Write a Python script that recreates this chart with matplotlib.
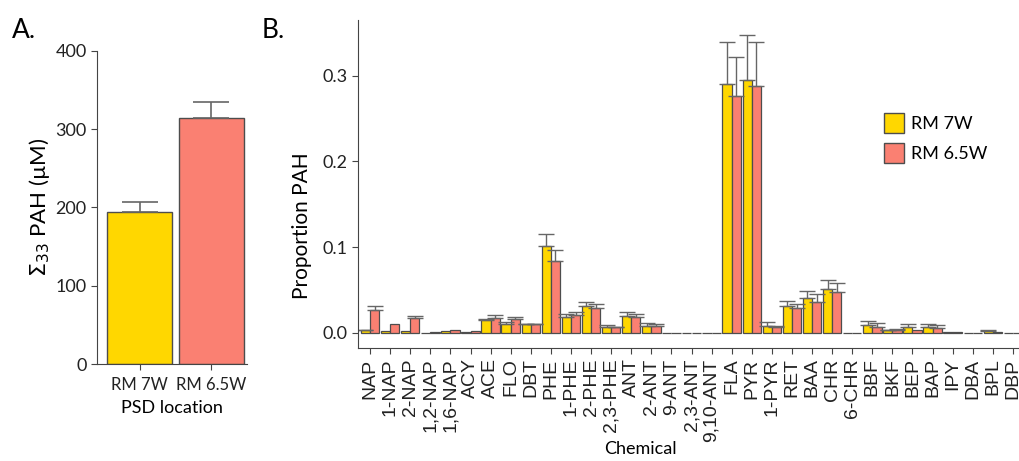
import numpy as np
import matplotlib
matplotlib.use('Agg')
import matplotlib.pyplot as plt
from matplotlib.patches import Patch

plt.rcParams['font.family'] = ['Lato', 'DejaVu Sans']
plt.rcParams['axes.edgecolor'] = '#444444'
plt.rcParams['xtick.color'] = '#444444'
plt.rcParams['ytick.color'] = '#444444'
plt.rcParams['xtick.labelcolor'] = '#222222'
plt.rcParams['ytick.labelcolor'] = '#222222'

# panel A data
locations = ['RM 7W', 'RM 6.5W']
total_pah = [194, 315]
total_err = [13, 20]

# panel B data
chemicals = ['NAP', '1-NAP', '2-NAP', '1,2-NAP', '1,6-NAP', 'ACY', 'ACE', 'FLO', 'DBT',
             'PHE', '1-PHE', '2-PHE', '2,3-PHE', 'ANT', '2-ANT', '9-ANT', '2,3-ANT',
             '9,10-ANT', 'FLA', 'PYR', '1-PYR', 'RET', 'BAA', 'CHR', '6-CHR', 'BBF',
             'BKF', 'BEP', 'BAP', 'IPY', 'DBA', 'BPL', 'DBP']
rm7w = [0.003, 0.002, 0.002, 0.0005, 0.002, 0.001, 0.015, 0.011, 0.010, 0.1015, 0.019,
        0.032, 0.0075, 0.020, 0.008, 0, 0, 0, 0.2905, 0.295, 0.0085, 0.032, 0.0405,
        0.0515, 0, 0.009, 0.003, 0.0065, 0.0065, 0.0015, 0, 0.002, 0]
rm7w_err = [0.001, 0.0005, 0.0005, 0, 0.0005, 0, 0.001, 0.002, 0.001, 0.014, 0.003,
            0.004, 0.0015, 0.005, 0.0035, 0, 0, 0, 0.0485, 0.052, 0.004, 0.0055, 0.0085,
            0.0105, 0, 0.0055, 0.001, 0.004, 0.004, 0.0005, 0, 0.002, 0]
rm65w = [0.027, 0.0105, 0.017, 0.001, 0.004, 0.002, 0.018, 0.016, 0.010, 0.0845, 0.0205,
         0.029, 0.0065, 0.019, 0.0085, 0, 0, 0, 0.2765, 0.2875, 0.0066, 0.029, 0.036,
         0.0475, 0, 0.0075, 0.003, 0.0035, 0.0055, 0.001, 0, 0.001, 0]
rm65w_err = [0.004, 0.0005, 0.003, 0, 0.0005, 0, 0.003, 0.003, 0.001, 0.0125, 0.0035,
             0.005, 0.001, 0.0035, 0.0015, 0, 0, 0, 0.0455, 0.0515, 0.0015, 0.005, 0.0095,
             0.0105, 0, 0.0045, 0.002, 0.0005, 0.0035, 0, 0, 0, 0]

yellow = '#FFD700'
salmon = '#FA8072'
edge = '#4d4d4d'
errc = '#666666'

fig = plt.figure(figsize=(10.19, 4.61), dpi=100)

# ---- panel A ----
axA = fig.add_axes([97/1019, 97/461, 150/1019, 313/461])
xa = np.arange(len(locations))
axA.bar(xa, total_pah, width=0.91, color=[yellow, salmon], edgecolor=edge, linewidth=1)
axA.errorbar(xa, total_pah, yerr=[np.zeros(2), total_err], fmt='none', ecolor=errc,
             elinewidth=1.2, capsize=13, capthick=1.2, zorder=1)
axA.set_xlim(-0.6, 1.5)
axA.set_ylim(0, 400)
axA.set_yticks([0, 100, 200, 300, 400])
axA.set_xticks(xa)
axA.set_xticklabels(locations, fontsize=12)
axA.tick_params(axis='y', labelsize=13, length=4)
axA.tick_params(axis='x', length=4, pad=5)
axA.spines[['top', 'right']].set_visible(False)
axA.set_ylabel(r'$\Sigma_{33}$ PAH (' + '\u00b5' + 'M)', fontsize=16)
axA.yaxis.set_label_coords((52 - 97) / 150, 0.5)
axA.set_xlabel('PSD location', fontsize=13)
axA.xaxis.set_label_coords(0.5, (364 - 400) / 313)

# ---- panel B ----
axB = fig.add_axes([358/1019, 113/461, 667/1019, 328/461])
xb = np.arange(len(chemicals))
w = 0.46
axB.bar(xb - w/2, rm7w, width=w, color=yellow, edgecolor=edge, linewidth=0.9, label='RM 7W')
axB.bar(xb + w/2, rm65w, width=w, color=salmon, edgecolor=edge, linewidth=0.9, label='RM 6.5W')

# only draw error bars where there is a visible error
for vals, errs, off in [(rm7w, rm7w_err, -w/2), (rm65w, rm65w_err, w/2)]:
    v = np.array(vals)
    e = np.array(errs)
    m = e > 0.0009
    axB.errorbar(xb[m] + off, v[m], yerr=[np.zeros(m.sum()), e[m]], fmt='none',
                 ecolor=errc, elinewidth=1, capsize=6, capthick=1, zorder=1)

axB.set_xlim(-0.6, 32.6)
axB.set_ylim(-0.0175, 0.365)
axB.set_yticks([0.0, 0.1, 0.2, 0.3])
axB.set_yticklabels(['0.0', '0.1', '0.2', '0.3'])
axB.set_xticks(xb)
axB.set_xticklabels(chemicals, rotation=90, fontsize=14, family='Liberation Sans')
axB.tick_params(axis='y', labelsize=13, length=4)
axB.tick_params(axis='x', length=4)
axB.spines[['top', 'right']].set_visible(False)
axB.set_ylabel('Proportion PAH', fontsize=15)
axB.yaxis.set_label_coords((312 - 358) / 667, (333 - 211) / 328)
axB.set_xlabel('Chemical', fontsize=13)
axB.xaxis.set_label_coords((640 - 358) / 667, (348 - 441) / 328)

handles = [Patch(facecolor=yellow, edgecolor=edge, label='RM 7W'),
           Patch(facecolor=salmon, edgecolor=edge, label='RM 6.5W')]
fig.legend(handles=handles, loc='upper left', bbox_to_anchor=(868/1019, 1 - 97/461),
           frameon=False, fontsize=13, handlelength=1.1, handleheight=1.3,
           handletextpad=0.4, labelspacing=0.55)

fig.text(12/1019, 1 - 30/461, 'A.', fontsize=19, va='center', ha='left')
fig.text(262/1019, 1 - 30/461, 'B.', fontsize=19, va='center', ha='left')

fig.savefig('out.png', dpi=100)
